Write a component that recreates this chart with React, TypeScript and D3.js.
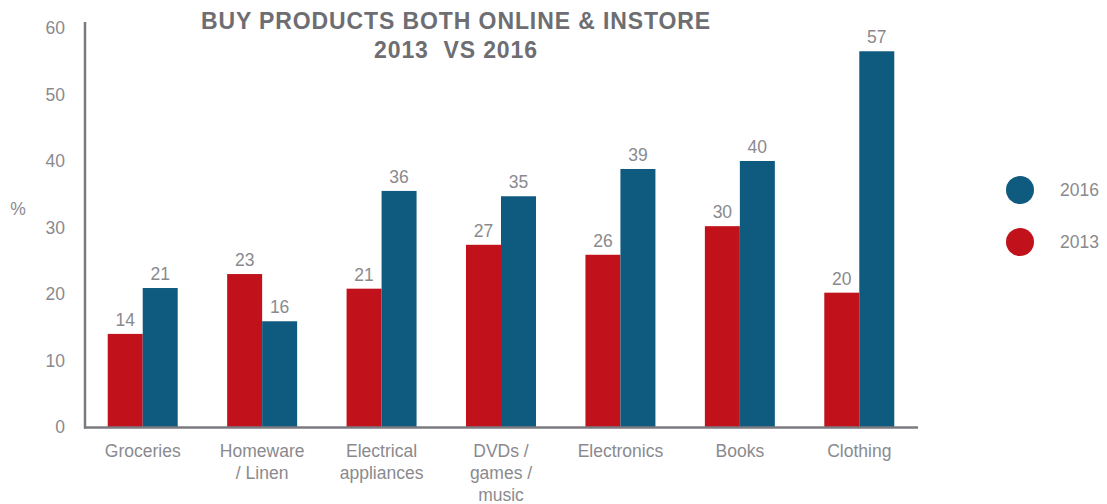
import React from "react";
import * as d3 from "d3";

const categories = ["Groceries", "Homeware\n/ Linen", "Electrical\nappliances", "DVDs /\ngames /\nmusic", "Electronics", "Books", "Clothing"];
const values2013 = [14, 23, 20.8, 27.4, 25.9, 30.2, 20.2];
const values2016 = [20.9, 15.9, 35.5, 34.7, 38.8, 40, 56.5];
const seriesNames = ["2013", "2016"];
const yTicks = [0, 10, 20, 30, 40, 50, 60];
const titleLines = ["BUY PRODUCTS BOTH ONLINE & INSTORE", "2013  VS 2016"];

const colors: Record<string, string> = { "2013": "#c1121c", "2016": "#0f5b80" };
const textColor = "#8a8a8e";
const axisColor = "#7a7a80";
const font = "'Liberation Sans', Arial, Helvetica, sans-serif";

export default function App() {
  const W = 1107, H = 504;
  const x = d3.scaleBand<string>().domain(categories).range([83, 919]).paddingInner(0.414).paddingOuter(0.207);
  const x1 = d3.scaleBand<string>().domain(seriesNames).range([0, x.bandwidth()]);
  const y = d3.scaleLinear().domain([0, 60]).range([427, 28]);
  const data: Record<string, number[]> = { "2013": values2013, "2016": values2016 };

  return (
    <svg width={W} height={H} style={{ position: "absolute", left: 0, top: 0, background: "#fff" }} fontFamily={font}>
      {titleLines.map((t, i) => (
        <text key={i} x={456} y={29 + i * 29} textAnchor="middle" fontSize={23} fontWeight="bold" fill="#6d6d72" letterSpacing={0.9} style={{ whiteSpace: "pre" }}>{t}</text>
      ))}
      {yTicks.map((t) => (
        <text key={t} x={65} y={y(t)} dy="0.35em" textAnchor="end" fontSize={17.5} fill={textColor}>{t}</text>
      ))}
      <text x={18} y={209} dy="0.35em" textAnchor="middle" fontSize={17.5} fill={textColor}>%</text>
      {categories.map((c, i) => (
        <g key={c}>
          {seriesNames.map((s) => {
            const v = data[s][i];
            const bx = (x(c) as number) + (x1(s) as number);
            return (
              <g key={s}>
                <rect x={bx} y={y(v)} width={x1.bandwidth()} height={y(0) - y(v)} fill={colors[s]} />
                <text x={bx + x1.bandwidth() / 2} y={y(v) - 8} textAnchor="middle" fontSize={17.5} fill={textColor}>{Math.round(v)}</text>
              </g>
            );
          })}
          {c.split("\n").map((line, j) => (
            <text key={j} x={(x(c) as number) + x.bandwidth() / 2} y={457 + j * 22} textAnchor="middle" fontSize={17.5} fill={textColor}>{line}</text>
          ))}
        </g>
      ))}
      <line x1={85} x2={85} y1={22} y2={428.5} stroke={axisColor} strokeWidth={2.5} />
      <line x1={84} x2={918} y1={427.5} y2={427.5} stroke={axisColor} strokeWidth={2.5} />
      {["2016", "2013"].map((s, i) => (
        <g key={s}>
          <circle cx={1020} cy={190 + i * 52} r={14} fill={colors[s]} />
          <text x={1060} y={190 + i * 52} dy="0.35em" fontSize={17.5} fill={textColor}>{s}</text>
        </g>
      ))}
    </svg>
  );
}
